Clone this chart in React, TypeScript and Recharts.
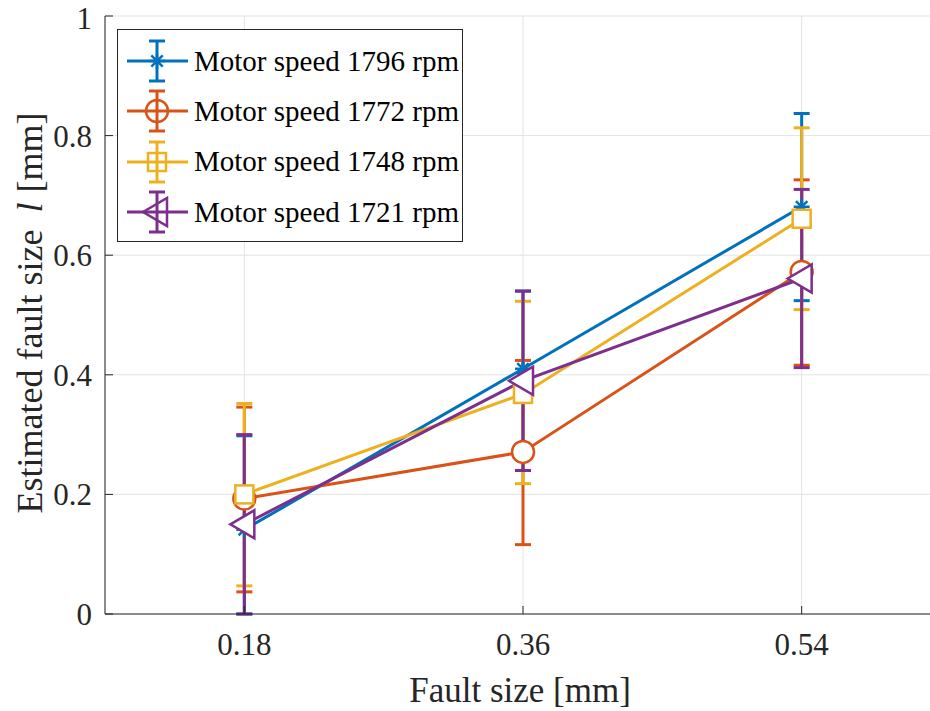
import React from 'react';
import { ComposedChart, Line, ErrorBar, XAxis, YAxis, CartesianGrid, Legend, Label } from 'recharts';

// fault sizes on the x axis [mm]
const faultSizes = [0.18, 0.36, 0.54];

const seriesNames = [
  'Motor speed 1796 rpm',
  'Motor speed 1772 rpm',
  'Motor speed 1748 rpm',
  'Motor speed 1721 rpm',
];
const seriesColors = ['#0072BD', '#D95319', '#EDB120', '#7E2F8E'];
const seriesShapes = ['star', 'circle', 'square', 'triangle'];

// estimated fault size l [mm], and [down, up] error
const speed1796 = [0.141, 0.41, 0.681];
const err1796 = [[0.141, 0.157], [0.17, 0.13], [0.157, 0.156]];
const speed1772 = [0.193, 0.271, 0.572];
const err1772 = [[0.156, 0.153], [0.155, 0.153], [0.156, 0.154]];
const speed1748 = [0.2, 0.368, 0.661];
const err1748 = [[0.153, 0.152], [0.15, 0.155], [0.152, 0.152]];
const speed1721 = [0.15, 0.39, 0.561];
const err1721 = [[0.15, 0.15], [0.15, 0.15], [0.149, 0.149]];

const xTicks = [0.18, 0.36, 0.54];
const yTicks = [0, 0.2, 0.4, 0.6, 0.8, 1];

const values = [speed1796, speed1772, speed1748, speed1721];
const errors = [err1796, err1772, err1748, err1721];

const data = faultSizes.map((x, i) => {
  const row: any = { x };
  values.forEach((v, s) => {
    row[`s${s}`] = v[i];
    row[`e${s}`] = errors[s][i];
  });
  return row;
});

const FONT = '"Liberation Serif", "Times New Roman", serif';
const AXIS = '#262626';

const Marker = ({ shape, cx, cy, color, fill }: any) => {
  const common = { stroke: color, strokeWidth: 2.5, fill };
  if (shape === 'star') {
    const r = 8;
    const d = 5.7;
    return (
      <g stroke={color} strokeWidth={2.5}>
        <line x1={cx - r} y1={cy} x2={cx + r} y2={cy} />
        <line x1={cx} y1={cy - r} x2={cx} y2={cy + r} />
        <line x1={cx - d} y1={cy - d} x2={cx + d} y2={cy + d} />
        <line x1={cx - d} y1={cy + d} x2={cx + d} y2={cy - d} />
      </g>
    );
  }
  if (shape === 'circle') return <circle cx={cx} cy={cy} r={11} {...common} />;
  if (shape === 'square') return <rect x={cx - 9} y={cy - 9} width={18} height={18} {...common} />;
  return (
    <polygon
      points={`${cx - 14},${cy} ${cx + 10},${cy - 14} ${cx + 10},${cy + 14}`}
      {...common}
    />
  );
};

const LegendBox = () => (
  <div
    style={{
      border: `1px solid ${AXIS}`,
      background: '#fff',
      width: 346,
      height: 213,
      boxSizing: 'border-box',
      paddingTop: 6,
      fontFamily: FONT,
    }}
  >
    {seriesNames.map((name, i) => (
      <div key={name} style={{ display: 'flex', alignItems: 'center', height: 50.3 }}>
        <svg width={76} height={50} style={{ flex: 'none' }}>
          <g stroke={seriesColors[i]} strokeWidth={3}>
            <line x1={9} x2={70} y1={25} y2={25} />
            <line x1={39} x2={39} y1={5} y2={45} />
            <line x1={31} x2={47} y1={5} y2={5} />
            <line x1={31} x2={47} y1={45} y2={45} />
          </g>
          <Marker shape={seriesShapes[i]} cx={39} cy={25} color={seriesColors[i]} fill="none" />
        </svg>
        <span style={{ fontSize: 29, color: '#000', whiteSpace: 'nowrap', lineHeight: 1 }}>{name}</span>
      </div>
    ))}
  </div>
);

const XTitle = ({ viewBox }: any) => (
  <text
    x={viewBox.x + viewBox.width / 2 - 3}
    y={690}
    textAnchor="middle"
    dominantBaseline="central"
    fontSize={35}
    fontFamily={FONT}
    fill={AXIS}
  >
    Fault size [mm]
  </text>
);

const YTitle = ({ viewBox }: any) => {
  const cx = 30;
  const cy = viewBox.y + viewBox.height / 2 - 2;
  return (
    <text
      x={cx}
      y={cy}
      transform={`rotate(-90 ${cx} ${cy})`}
      textAnchor="middle"
      dominantBaseline="central"
      fontSize={36}
      fontFamily={FONT}
      fill={AXIS}
    >
      <tspan>Estimated fault size</tspan>
      <tspan dx={17} fontStyle="italic">l</tspan>
      <tspan dx={10}>[mm]</tspan>
    </text>
  );
};

export default function App() {
  return (
    <div
      style={{
        position: 'absolute',
        left: 0,
        top: 0,
        width: 930,
        height: 711,
        overflow: 'hidden',
        background: '#fff',
        fontFamily: FONT,
      }}
    >
      <style>{`.recharts-wrapper text, .recharts-text { font-family: ${FONT} !important; }`}</style>
      <ComposedChart
        width={941}
        height={711}
        data={data}
        margin={{ top: 16, right: 0, bottom: 0, left: 0 }}
        style={{ fontFamily: FONT }}
      >
        <CartesianGrid stroke="#e3e3e3" strokeWidth={1} />
        <XAxis
          dataKey="x"
          type="number"
          domain={[0.09, 0.63]}
          ticks={xTicks}
          allowDataOverflow
          height={97}
          tickSize={-8}
          tickMargin={27}
          stroke={AXIS}
          tick={{ fill: AXIS, fontSize: 31, fontFamily: FONT }}
          tickFormatter={(v: number) => v.toFixed(2)}
        >
          <Label content={<XTitle />} />
        </XAxis>
        <XAxis
          xAxisId="top"
          orientation="top"
          dataKey="x"
          type="number"
          domain={[0.09, 0.63]}
          ticks={xTicks}
          allowDataOverflow
          height={0}
          tickSize={-8}
          tick={false}
          stroke={AXIS}
        />
        <YAxis
          type="number"
          domain={[0, 1]}
          ticks={yTicks}
          allowDataOverflow
          width={105}
          tickSize={-8}
          tickMargin={21}
          stroke={AXIS}
          tick={{ fill: AXIS, fontSize: 31, fontFamily: FONT }}
          tickFormatter={(v: number) => String(v)}
        >
          <Label content={<YTitle />} />
        </YAxis>
        {seriesNames.map((name, s) => (
          <Line
            key={name}
            name={name}
            dataKey={`s${s}`}
            type="linear"
            stroke={seriesColors[s]}
            strokeWidth={3}
            isAnimationActive={false}
            activeDot={false}
            dot={(p: any) => (
              <Marker
                key={`m-${s}-${p.index}`}
                shape={seriesShapes[s]}
                cx={p.cx}
                cy={p.cy}
                color={seriesColors[s]}
                fill="#fff"
              />
            )}
          >
            <ErrorBar
              dataKey={`e${s}`}
              direction="y"
              width={8}
              strokeWidth={3}
              stroke={seriesColors[s]}
              isAnimationActive={false}
            />
          </Line>
        ))}
        <Legend
          layout="vertical"
          align="center"
          verticalAlign="middle"
          content={<LegendBox />}
          wrapperStyle={{ left: 117, top: 29, width: 346, height: 213 }}
        />
      </ComposedChart>
    </div>
  );
}
